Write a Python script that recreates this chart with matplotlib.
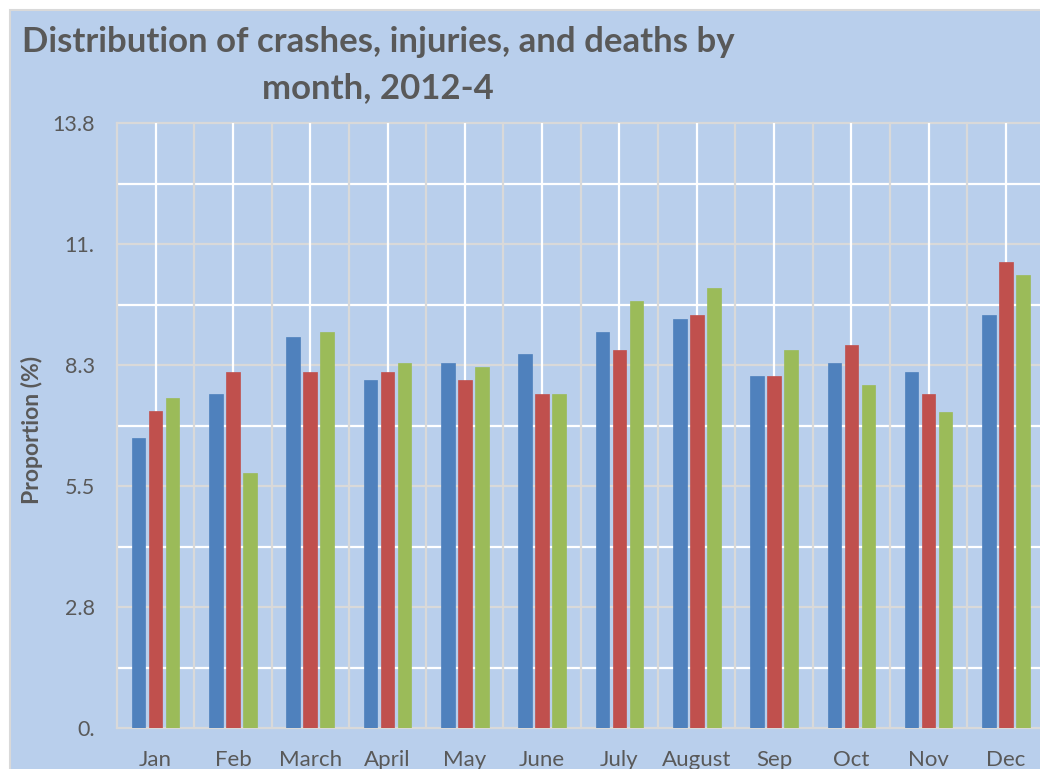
import numpy as np
import matplotlib.pyplot as plt
from matplotlib.patches import Rectangle

# data
months = ['Jan', 'Feb', 'March', 'April', 'May', 'June', 'July',
          'August', 'Sep', 'Oct', 'Nov', 'Dec']
crashes = [6.61, 7.62, 8.92, 7.94, 8.33, 8.53, 9.03, 9.33, 8.03, 8.33, 8.12, 9.42]
injuries = [7.23, 8.12, 8.12, 8.12, 7.94, 7.62, 8.62, 9.42, 8.03, 8.74, 7.62, 10.63]
deaths = [7.53, 5.82, 9.03, 8.33, 8.23, 7.62, 9.74, 10.04, 8.62, 7.82, 7.21, 10.33]
yticks = [0, 2.76, 5.52, 8.28, 11.04, 13.8]
ytick_labels = ['0.', '2.8', '5.5', '8.3', '11.', '13.8']

bg = '#B9CFEC'
txt = '#595959'
grey = '#D9D9D9'
colors = ['#4F81BD', '#C0504D', '#9BBB59']

plt.rcParams['font.family'] = ['Lato', 'DejaVu Sans']

fig = plt.figure(figsize=(10.4, 7.69), dpi=100, facecolor='white')
fig.patches.append(Rectangle((10 / 1040, -0.1), 1.2, (769 - 10) / 769 + 0.1,
                             transform=fig.transFigure, facecolor=bg,
                             edgecolor=grey, linewidth=1.5, zorder=-10))

ax = fig.add_axes([117 / 1040, 1 - 728 / 769, 12 * 77.3 / 1040, 605 / 769])
ax.set_facecolor(bg)

x = np.arange(len(months))
w = 0.175
step = 0.22
for i, (vals, c) in enumerate(zip([crashes, injuries, deaths], colors)):
    ax.bar(x + (i - 1) * step, vals, width=w, color=c, zorder=3,
           edgecolor=c, linewidth=0.5)

ax.set_xlim(-0.5, len(months) - 0.5)
ax.set_ylim(0, 13.8)

# horizontal grid: grey major, white minor
for v in yticks:
    ax.axhline(v, color=grey, lw=1.6, zorder=1, clip_on=False)
for v in np.array(yticks[:-1]) + 1.38:
    ax.axhline(v, color='white', lw=1.6, zorder=1)
# vertical grid: white at centres, grey between months
for xi in x:
    ax.axvline(xi, color='white', lw=1.6, zorder=1)
for xi in np.arange(-0.5, len(months), 1.0):
    ax.axvline(xi, color=grey, lw=1.6, zorder=1, clip_on=False)

for s in ax.spines.values():
    s.set_visible(False)

ax.set_yticks(yticks)
ax.set_yticklabels(ytick_labels)
ax.set_xticks(x)
ax.set_xticklabels(months)
ax.tick_params(axis='both', length=0, colors=txt, labelsize=15.5)
ax.tick_params(axis='y', pad=16)
ax.tick_params(axis='x', pad=16, labelsize=16)

fig.text(32 / 1040, 1 - 430 / 769, 'Proportion (%)', rotation=90,
         ha='center', va='center', fontsize=16.5, fontweight='bold', color=txt)

fig.text(378 / 1040, 1 - 42 / 769, 'Distribution of crashes, injuries, and deaths by',
         ha='center', va='center', fontsize=25, fontweight='bold', color=txt)
fig.text(378 / 1040, 1 - 88 / 769, 'month, 2012-4',
         ha='center', va='center', fontsize=25, fontweight='bold', color=txt)

fig.savefig('out.png', dpi=100, facecolor='white')
